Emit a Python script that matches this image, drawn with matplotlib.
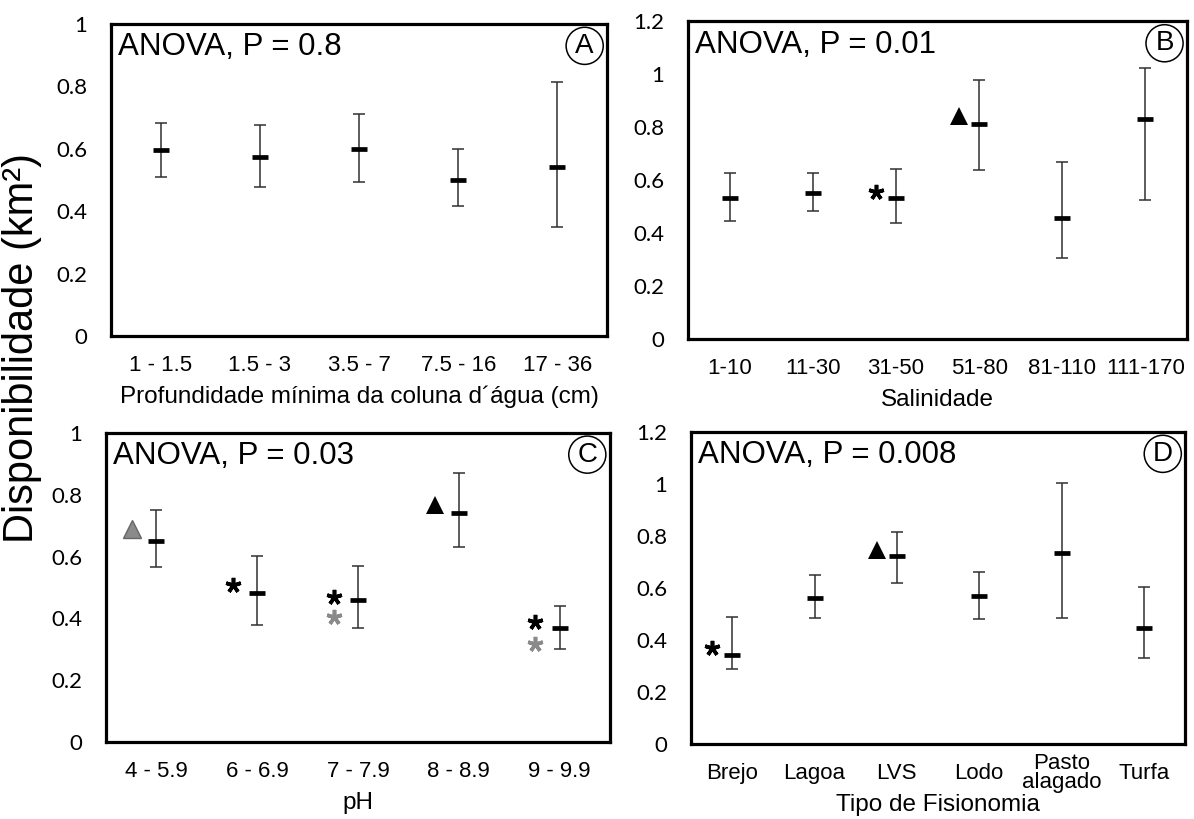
import matplotlib
matplotlib.use("Agg")
import matplotlib.pyplot as plt
import numpy as np

plt.rcParams["font.family"] = ["Liberation Sans", "DejaVu Sans"]

# --- data (mean, lower and upper end of each bar) ---
A_CATS = ["1 - 1.5", "1.5 - 3", "3.5 - 7", "7.5 - 16", "17 - 36"]
A_MEAN = [0.597, 0.575, 0.598, 0.499, 0.541]
A_LO = [0.511, 0.479, 0.492, 0.418, 0.349]
A_HI = [0.682, 0.677, 0.711, 0.598, 0.813]

B_CATS = ["1-10", "11-30", "31-50", "51-80", "81-110", "111-170"]
B_MEAN = [0.533, 0.552, 0.533, 0.810, 0.457, 0.832]
B_LO = [0.445, 0.482, 0.438, 0.636, 0.306, 0.523]
B_HI = [0.627, 0.627, 0.640, 0.979, 0.667, 1.024]

C_CATS = ["4 - 5.9", "6 - 6.9", "7 - 7.9", "8 - 8.9", "9 - 9.9"]
C_MEAN = [0.651, 0.482, 0.460, 0.742, 0.369]
C_LO = [0.566, 0.380, 0.369, 0.631, 0.300]
C_HI = [0.751, 0.601, 0.570, 0.872, 0.439]

D_CATS = ["Brejo", "Lagoa", "LVS", "Lodo", "Pasto\nalagado", "Turfa"]
D_MEAN = [0.341, 0.561, 0.722, 0.570, 0.736, 0.448]
D_LO = [0.289, 0.486, 0.621, 0.482, 0.485, 0.332]
D_HI = [0.489, 0.651, 0.817, 0.662, 1.003, 0.602]

# significance symbols: category index, height, kind
B_SIG_IDX = [2, 3]
B_SIG_Y = [0.554, 0.840]
B_SIG_KIND = ["star", "tri"]

C_SIG_IDX = [0, 1, 2, 2, 3, 4, 4]
C_SIG_Y = [0.688, 0.507, 0.469, 0.403, 0.767, 0.387, 0.317]
C_SIG_KIND = ["tri_grey", "star", "star", "star_grey", "tri", "star", "star_grey"]

D_SIG_IDX = [0, 2]
D_SIG_Y = [0.370, 0.746]
D_SIG_KIND = ["star", "tri"]

W, H = 1194, 819


def rect(l, r, t, b):
    return [l / W, 1 - b / H, (r - l) / W, (b - t) / H]


SIG_STYLE = {
    "star": dict(marker=(5, 2, 0), ms=11, mew=2.6, color="black"),
    "star_grey": dict(marker=(5, 2, 0), ms=11, mew=2.6, color="#8a8a8a"),
    "tri": dict(marker="^", ms=13, mew=0, color="black"),
    "tri_grey": dict(marker="^", ms=13, mew=1, color="#8a8a8a", mec="#666666"),
}


def panel(fig, box, cats, mean, lo, hi, ymax, anova, letter, xlabel,
          sig_idx=(), sig_y=(), sig_kind=()):
    ax = fig.add_axes(rect(*box))
    x = np.arange(len(cats))
    mean = np.array(mean)
    yerr = [mean - np.array(lo), np.array(hi) - mean]
    ax.errorbar(x, mean, yerr=yerr, fmt="none", ecolor="#303030",
                elinewidth=1.1, capsize=4, capthick=1.1)
    ax.plot(x, mean, ls="none", marker="_", ms=12, mew=3.4, color="black")
    for i, yv, k in zip(sig_idx, sig_y, sig_kind):
        ax.plot([i - 0.24], [yv], ls="none", **SIG_STYLE[k])

    ax.set_xlim(-0.5, len(cats) - 0.5)
    ax.set_ylim(0, ymax)
    ticks = np.arange(0, ymax + 0.01, 0.2)
    ax.set_yticks(ticks)
    ax.set_yticklabels([f"{v:g}" for v in ticks],
                       family=["Lato", "DejaVu Sans"], fontsize=16)
    ax.set_xticks(x)
    ax.set_xticklabels(cats, fontsize=16, va="center", linespacing=0.85)
    ax.tick_params(axis="y", length=0, pad=17)
    ax.tick_params(axis="x", length=0, pad=21)
    for s in ax.spines.values():
        s.set_linewidth(2.3)

    ax.text(0.014, 0.925, anova, transform=ax.transAxes, fontsize=22.5,
            va="center", ha="left")
    ax.text(0.955, 0.93, letter, transform=ax.transAxes, fontsize=20,
            va="center", ha="center",
            bbox=dict(boxstyle="circle,pad=0.2", fc="none", ec="black", lw=1.1))

    hpx = box[3] - box[2]
    ax.set_xlabel(xlabel, fontsize=17.5)
    ax.xaxis.label.set_va("center")
    ax.xaxis.set_label_coords(0.5, -61 / hpx)
    return ax


fig = plt.figure(figsize=(W / 100, H / 100), dpi=100)

panel(fig, (111, 607, 24, 336), A_CATS, A_MEAN, A_LO, A_HI, 1.0,
      "ANOVA, P = 0.8", "A", "Profundidade mínima da coluna d´água (cm)")
panel(fig, (688, 1187, 21, 339), B_CATS, B_MEAN, B_LO, B_HI, 1.2,
      "ANOVA, P = 0.01", "B", "Salinidade", B_SIG_IDX, B_SIG_Y, B_SIG_KIND)
panel(fig, (106, 610, 433, 742), C_CATS, C_MEAN, C_LO, C_HI, 1.0,
      "ANOVA, P = 0.03", "C", "pH", C_SIG_IDX, C_SIG_Y, C_SIG_KIND)
panel(fig, (691, 1185, 432, 744), D_CATS, D_MEAN, D_LO, D_HI, 1.2,
      "ANOVA, P = 0.008", "D", "Tipo de Fisionomia", D_SIG_IDX, D_SIG_Y, D_SIG_KIND)

fig.text(22 / W, 1 - 348 / H, "Disponibilidade (km²)", rotation=90,
         fontsize=30, va="center", ha="center")

fig.savefig("out.png", dpi=100)
